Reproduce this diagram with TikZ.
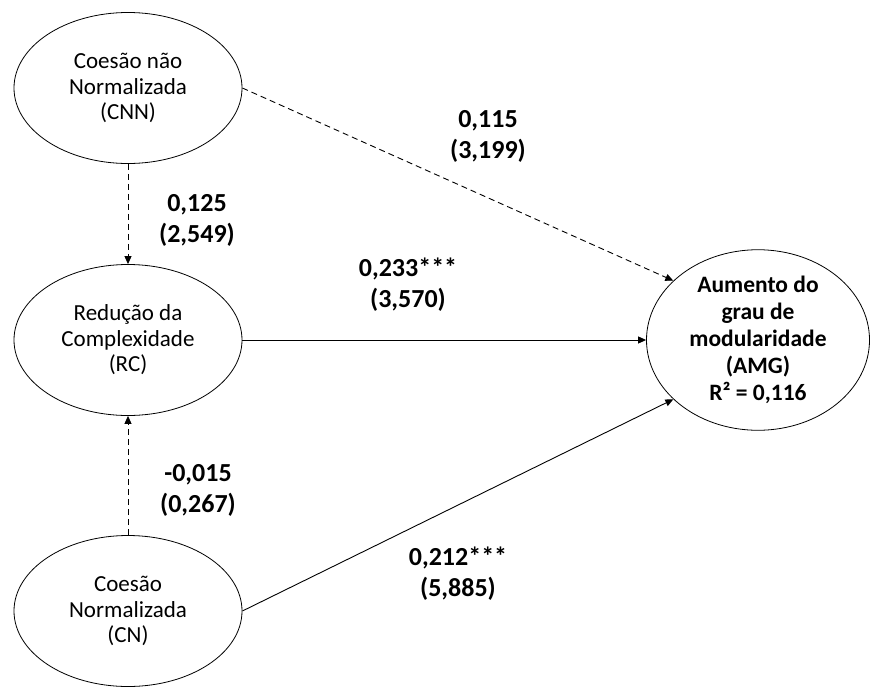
\documentclass[tikz,border=0pt]{standalone}
\usepackage{fontspec}
\setmainfont{Carlito}
\usepackage{tikz}
\usetikzlibrary{arrows.meta,shapes.geometric}

\begin{document}
\begin{tikzpicture}[x=1pt, y=-1pt,
  construct/.style={draw, ellipse, line width=0.8pt, minimum width=228pt, minimum height=151pt, align=center, inner sep=0pt, font=\fontsize{23}{25.5}\selectfont},
  target/.style={construct, minimum width=223pt, font=\fontsize{23.5}{27}\selectfont\bfseries},
  arr/.style={-{Triangle[length=8pt, width=7pt]}, line width=0.9pt},
  weak/.style={arr, dash pattern=on 6pt off 4pt},
  lab/.style={align=center, inner sep=0pt, font=\fontsize{26}{31}\selectfont\bfseries}]
  \useasboundingbox (0,0) rectangle (870,686);
  \node[construct] (cnn) at (128,88)  {Coesão não\\Normalizada\\(CNN)};
  \node[construct] (rc)  at (128,340) {Redução da\\Complexidade\\(RC)};
  \node[construct] (cn)  at (128,611) {Coesão\\Normalizada\\(CN)};
  \node[target]    (amg) at (758,340) {Aumento do\\grau de\\modularidade\\(AMG)\\R² = 0,116};
  \draw[weak] (cnn.south) -- (rc.north);
  \draw[weak] (cn.north) -- (rc.south);
  \draw[weak] (cnn.east) -- (amg.145);
  \draw[arr] (rc.east) -- (amg.west);
  \draw[arr] (cn.east) -- (amg.215);
  \node[lab] (l115) at (488,136) {0,115\\(3,199)};
  \node[lab] (l125) at (197,220) {0,125\\(2,549)};
  \node[lab] (l233) at (408,285) {0,233***\\(3,570)};
  \node[lab] (l015) at (198,490) {-0,015\\(0,267)};
  \node[lab] (l212) at (458,574) {0,212***\\(5,885)};
\end{tikzpicture}
\end{document}
